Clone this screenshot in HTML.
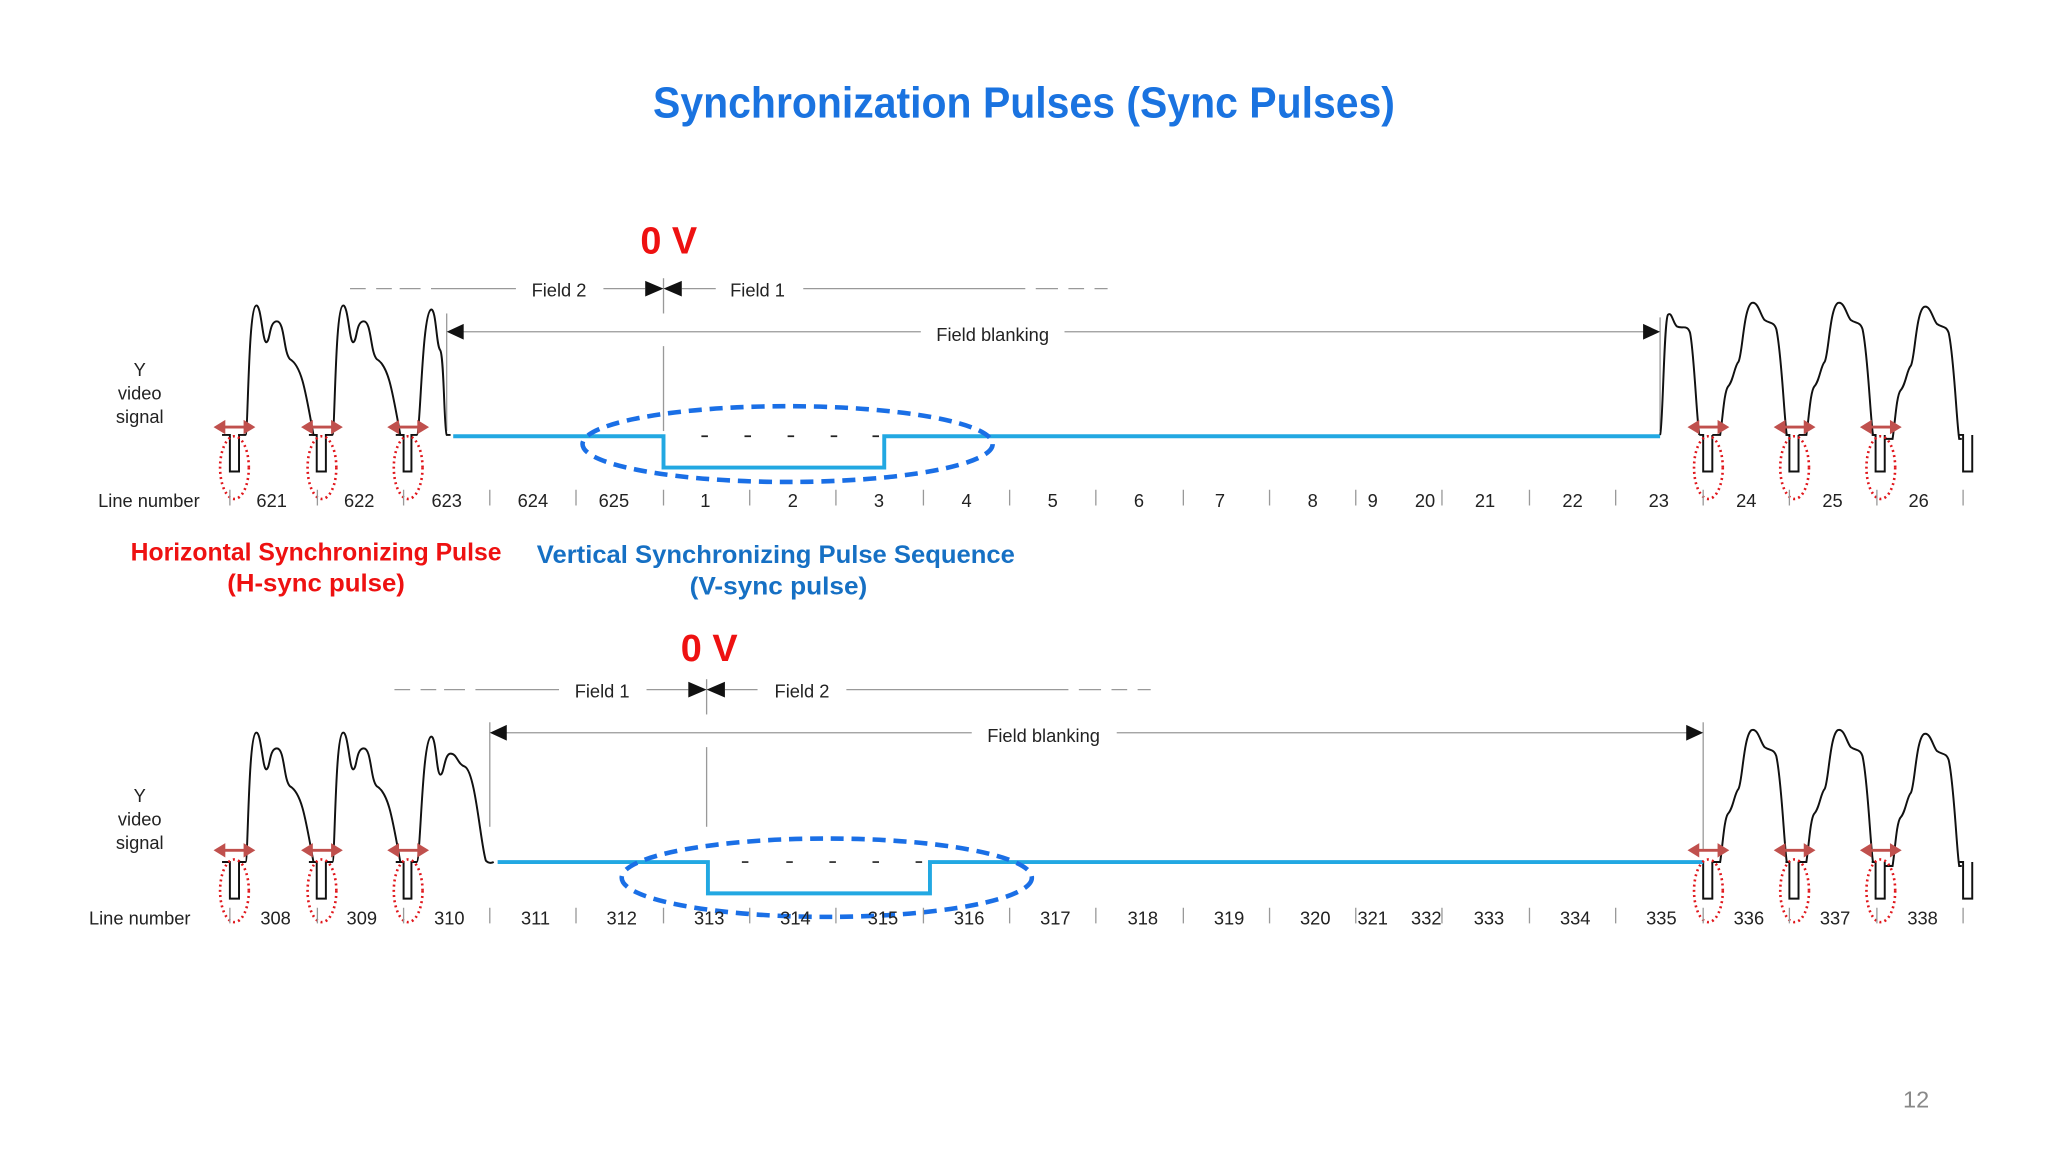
<!DOCTYPE html>
<html><head><meta charset="utf-8"><style>
html,body{margin:0;padding:0;background:#fff;}
svg{display:block;}
</style></head><body>
<svg width="2048" height="1152" viewBox="0 0 1568 882" xmlns="http://www.w3.org/2000/svg" font-family="Liberation Sans, sans-serif">
<rect width="1568" height="882" fill="#fff"/>
<defs>
  <g id="v1">
    <path d="M170,333 H176 V361 H183 V333 H188 C190,333 190,236 196,234 C200,232 201,263 204,262 C207,261 206,246 212,246 C218,246 217,270 222,275 C231,280 234,300 240,333 H243" fill="none" stroke="#111" stroke-width="1.5"/>
  </g>
  <g id="hs">
    <line x1="-8" y1="0" x2="8" y2="0" stroke="#c0504d" stroke-width="2.2"/>
    <polygon points="-16,0 -7,-5.5 -7,5.5" fill="#c0504d"/>
    <polygon points="16,0 7,-5.5 7,5.5" fill="#c0504d"/>
    <ellipse cx="0" cy="31" rx="11" ry="24" fill="none" stroke="#e0161b" stroke-width="2" stroke-dasharray="1.5,2.5"/>
  </g>
  <g id="rv">
    <path d="M1311,333 H1317 C1319,320 1320,300 1323,296 C1327,292 1328,280 1331,277 C1334,272 1335,236 1341,232 C1346,230 1348,242 1351,245 C1355,248 1358,246 1360,252 C1364,270 1366,320 1368,333 H1370" fill="none" stroke="#111" stroke-width="1.5"/>
  </g>
  <g id="rp"><path d="M1301,333 H1304 V361 H1311 V333" fill="none" stroke="#111" stroke-width="1.5"/></g>
</defs>

<text x="784" y="90" text-anchor="middle" font-size="33" font-weight="bold" fill="#1a73e0" textLength="568" lengthAdjust="spacingAndGlyphs">Synchronization Pulses (Sync Pulses)</text>

<!-- ============ TOP DIAGRAM ============ -->
<text x="512" y="194" text-anchor="middle" font-size="29" font-weight="bold" fill="#ee1111">0 V</text>
<g stroke="#999" stroke-width="1">
  <path d="M268,221 H280 M288,221 H300 M306,221 H322 M330,221 H395 M462,221 H494 M522,221 H548 M615,221 H785 M793,221 H810 M818,221 H830 M838,221 H848"/>
  <line x1="508" y1="213" x2="508" y2="240"/>
  <line x1="508" y1="265" x2="508" y2="330"/>
  <line x1="342" y1="240" x2="342" y2="330"/>
  <line x1="1271" y1="243" x2="1271" y2="330"/>
  <path d="M352,254 H705 M815,254 H1262"/>
</g>
<polygon points="494,215 508,221 494,227" fill="#111"/>
<polygon points="522,215 508,221 522,227" fill="#111"/>
<polygon points="342,254 355,248 355,260" fill="#111"/>
<polygon points="1271,254 1258,248 1258,260" fill="#111"/>
<g font-size="14" fill="#222" text-anchor="middle">
  <text x="428" y="227">Field 2</text>
  <text x="580" y="227">Field 1</text>
  <text x="760" y="261">Field blanking</text>
  <text x="107" y="288">Y</text>
  <text x="107" y="306">video</text>
  <text x="107" y="324">signal</text>
  <text x="114" y="388">Line number</text>
</g>

<use href="#v1"/>
<use href="#v1" transform="translate(66.5,0)"/>
<path d="M303,333 H309 V361 H315 V333 H319 C322,333 323,240 330,237 C334,236 334,265 337,268 C340,272 340,330 342,333 H345" fill="none" stroke="#111" stroke-width="1.5"/>
<path d="M347,334 H508 V358 H677 V334 H1271" fill="none" stroke="#22a8e2" stroke-width="3"/>
<g stroke="#222" stroke-width="1.3"><path d="M537,334 H542 M570,334 H575 M603,334 H608 M636,334 H641 M668,334 H673"/></g>
<ellipse cx="603" cy="340" rx="157" ry="29" fill="none" stroke="#1a6fe6" stroke-width="3.5" stroke-dasharray="10,6"/>
<path d="M1271,333 C1273,330 1274,245 1277,241 C1280,238 1281,248 1284,250 C1288,252 1292,248 1294,255 C1297,270 1299,320 1301,333" fill="none" stroke="#111" stroke-width="1.5"/>
<use href="#rp"/>
<use href="#rv"/>
<use href="#rp" transform="translate(66,0)"/>
<use href="#rv" transform="translate(66,0)"/>
<use href="#rp" transform="translate(132,0)"/>
<use href="#rv" transform="translate(132,3)"/>
<path d="M1500,333 H1503 V361 H1510 V333" fill="none" stroke="#111" stroke-width="1.5"/>
<use href="#hs" transform="translate(179.5,327)"/>
<use href="#hs" transform="translate(246.5,327)"/>
<use href="#hs" transform="translate(312.5,327)"/>
<use href="#hs" transform="translate(1308,327)"/>
<use href="#hs" transform="translate(1374,327)"/>
<use href="#hs" transform="translate(1440,327)"/>
<g stroke="#999" stroke-width="1">
<path d="M176,375 V387 M243,375 V387 M309,375 V387 M375,375 V387 M441,375 V387 M508,375 V387 M574,375 V387 M640,375 V387 M707,375 V387 M773,375 V387 M839,375 V387 M906,375 V387 M972,375 V387 M1038,375 V387 M1104,375 V387 M1171,375 V387 M1237,375 V387 M1304,375 V387 M1370,375 V387 M1437,375 V387 M1503,375 V387"/>
</g>
<g font-size="14" fill="#222" text-anchor="middle">
<text x="208" y="388">621</text><text x="275" y="388">622</text><text x="342" y="388">623</text><text x="408" y="388">624</text><text x="470" y="388">625</text>
<text x="540" y="388">1</text><text x="607" y="388">2</text><text x="673" y="388">3</text><text x="740" y="388">4</text><text x="806" y="388">5</text>
<text x="872" y="388">6</text><text x="934" y="388">7</text><text x="1005" y="388">8</text><text x="1051" y="388">9</text><text x="1091" y="388">20</text>
<text x="1137" y="388">21</text><text x="1204" y="388">22</text><text x="1270" y="388">23</text><text x="1337" y="388">24</text><text x="1403" y="388">25</text><text x="1469" y="388">26</text>
</g>

<g font-size="19" font-weight="bold" text-anchor="middle">
<text x="242" y="429" fill="#ee1111" textLength="284" lengthAdjust="spacingAndGlyphs">Horizontal Synchronizing Pulse</text>
<text x="242" y="453" fill="#ee1111" textLength="136" lengthAdjust="spacingAndGlyphs">(H-sync pulse)</text>
<text x="594" y="431" fill="#1670c4" textLength="366" lengthAdjust="spacingAndGlyphs">Vertical Synchronizing Pulse Sequence</text>
<text x="596" y="455" fill="#1670c4" textLength="136" lengthAdjust="spacingAndGlyphs">(V-sync pulse)</text>
</g>

<!-- ============ BOTTOM DIAGRAM ============ -->
<text x="543" y="506" text-anchor="middle" font-size="29" font-weight="bold" fill="#ee1111">0 V</text>
<g stroke="#999" stroke-width="1">
  <path d="M302,528 H314 M322,528 H334 M340,528 H356 M364,528 H428 M495,528 H527 M555,528 H580 M648,528 H818 M826,528 H843 M851,528 H863 M871,528 H881"/>
  <line x1="541" y1="520" x2="541" y2="547"/>
  <line x1="541" y1="572" x2="541" y2="633"/>
  <line x1="375" y1="553" x2="375" y2="633"/>
  <line x1="1304" y1="553" x2="1304" y2="650"/>
  <path d="M385,561 H744 M855,561 H1295"/>
</g>
<polygon points="527,522 541,528 527,534" fill="#111"/>
<polygon points="555,522 541,528 555,534" fill="#111"/>
<polygon points="375,561 388,555 388,567" fill="#111"/>
<polygon points="1304,561 1291,555 1291,567" fill="#111"/>
<g font-size="14" fill="#222" text-anchor="middle">
  <text x="461" y="534">Field 1</text>
  <text x="614" y="534">Field 2</text>
  <text x="799" y="568">Field blanking</text>
  <text x="107" y="614">Y</text>
  <text x="107" y="632">video</text>
  <text x="107" y="650">signal</text>
  <text x="107" y="708">Line number</text>
</g>
<g transform="translate(0,327)">
<use href="#v1"/>
<use href="#v1" transform="translate(66.5,0)"/>
<path d="M303,333 H309 V361 H315 V333 H319 C322,333 323,240 330,237 C334,236 334,265 337,266 C340,267 340,250 345,250 C350,250 350,258 356,260 C364,264 368,320 372,332 C374,334 376,334 378,333" fill="none" stroke="#111" stroke-width="1.5"/>
<use href="#rp"/>
<use href="#rv"/>
<use href="#rp" transform="translate(66,0)"/>
<use href="#rv" transform="translate(66,0)"/>
<use href="#rp" transform="translate(132,0)"/>
<use href="#rv" transform="translate(132,3)"/>
<path d="M1500,333 H1503 V361 H1510 V333" fill="none" stroke="#111" stroke-width="1.5"/>
</g>
<path d="M381,660 H542 V684 H712 V660 H1304" fill="none" stroke="#22a8e2" stroke-width="3"/>
<g stroke="#222" stroke-width="1.3"><path d="M568,660 H573 M602,660 H607 M635,660 H640 M668,660 H673 M701,660 H706"/></g>
<ellipse cx="633" cy="672" rx="157" ry="30" fill="none" stroke="#1a6fe6" stroke-width="3.5" stroke-dasharray="10,6"/>

<!-- bottom hsync markers (explicit) -->
<g>
  <g transform="translate(179.5,651)">
    <line x1="-8" y1="0" x2="8" y2="0" stroke="#c0504d" stroke-width="2.2"/>
    <polygon points="-16,0 -7,-5.5 -7,5.5" fill="#c0504d"/><polygon points="16,0 7,-5.5 7,5.5" fill="#c0504d"/>
    <ellipse cx="0" cy="31" rx="11" ry="24" fill="none" stroke="#e0161b" stroke-width="2" stroke-dasharray="1.5,2.5"/>
  </g>
  <g transform="translate(246.5,651)">
    <line x1="-8" y1="0" x2="8" y2="0" stroke="#c0504d" stroke-width="2.2"/>
    <polygon points="-16,0 -7,-5.5 -7,5.5" fill="#c0504d"/><polygon points="16,0 7,-5.5 7,5.5" fill="#c0504d"/>
    <ellipse cx="0" cy="31" rx="11" ry="24" fill="none" stroke="#e0161b" stroke-width="2" stroke-dasharray="1.5,2.5"/>
  </g>
  <g transform="translate(312.5,651)">
    <line x1="-8" y1="0" x2="8" y2="0" stroke="#c0504d" stroke-width="2.2"/>
    <polygon points="-16,0 -7,-5.5 -7,5.5" fill="#c0504d"/><polygon points="16,0 7,-5.5 7,5.5" fill="#c0504d"/>
    <ellipse cx="0" cy="31" rx="11" ry="24" fill="none" stroke="#e0161b" stroke-width="2" stroke-dasharray="1.5,2.5"/>
  </g>
  <g transform="translate(1308,651)">
    <line x1="-8" y1="0" x2="8" y2="0" stroke="#c0504d" stroke-width="2.2"/>
    <polygon points="-16,0 -7,-5.5 -7,5.5" fill="#c0504d"/><polygon points="16,0 7,-5.5 7,5.5" fill="#c0504d"/>
    <ellipse cx="0" cy="31" rx="11" ry="24" fill="none" stroke="#e0161b" stroke-width="2" stroke-dasharray="1.5,2.5"/>
  </g>
  <g transform="translate(1374,651)">
    <line x1="-8" y1="0" x2="8" y2="0" stroke="#c0504d" stroke-width="2.2"/>
    <polygon points="-16,0 -7,-5.5 -7,5.5" fill="#c0504d"/><polygon points="16,0 7,-5.5 7,5.5" fill="#c0504d"/>
    <ellipse cx="0" cy="31" rx="11" ry="24" fill="none" stroke="#e0161b" stroke-width="2" stroke-dasharray="1.5,2.5"/>
  </g>
  <g transform="translate(1440,651)">
    <line x1="-8" y1="0" x2="8" y2="0" stroke="#c0504d" stroke-width="2.2"/>
    <polygon points="-16,0 -7,-5.5 -7,5.5" fill="#c0504d"/><polygon points="16,0 7,-5.5 7,5.5" fill="#c0504d"/>
    <ellipse cx="0" cy="31" rx="11" ry="24" fill="none" stroke="#e0161b" stroke-width="2" stroke-dasharray="1.5,2.5"/>
  </g>
</g>

<g stroke="#999" stroke-width="1">
<path d="M176,695 V707 M243,695 V707 M309,695 V707 M375,695 V707 M441,695 V707 M508,695 V707 M574,695 V707 M640,695 V707 M707,695 V707 M773,695 V707 M839,695 V707 M906,695 V707 M972,695 V707 M1038,695 V707 M1104,695 V707 M1171,695 V707 M1237,695 V707 M1304,695 V707 M1370,695 V707 M1437,695 V707 M1503,695 V707"/>
</g>
<g font-size="14" fill="#222" text-anchor="middle">
<text x="211" y="708">308</text><text x="277" y="708">309</text><text x="344" y="708">310</text><text x="410" y="708">311</text><text x="476" y="708">312</text>
<text x="543" y="708">313</text><text x="609" y="708">314</text><text x="676" y="708">315</text><text x="742" y="708">316</text><text x="808" y="708">317</text>
<text x="875" y="708">318</text><text x="941" y="708">319</text><text x="1007" y="708">320</text><text x="1051" y="708">321</text><text x="1092" y="708">332</text>
<text x="1140" y="708">333</text><text x="1206" y="708">334</text><text x="1272" y="708">335</text><text x="1339" y="708">336</text><text x="1405" y="708">337</text><text x="1472" y="708">338</text>
</g>

<text x="1467" y="848" text-anchor="middle" font-size="18" fill="#888">12</text>
</svg>
</body></html>
